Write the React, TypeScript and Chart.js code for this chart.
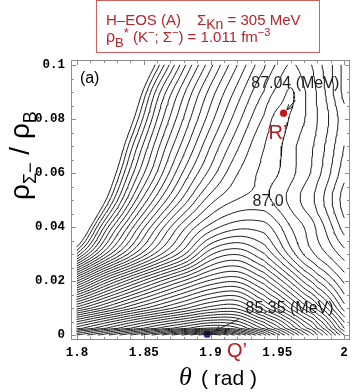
import React, { useEffect, useRef } from "react";
import { Chart, registerables } from "chart.js";

Chart.register(...registerables);

// ---- data: energy surface E(theta, rho) ----
// values are contour indices above the global minimum Q' (85.35 MeV), one index = 0.05 MeV
const thetaValues = [1.8, 1.82, 1.84, 1.86, 1.88, 1.9, 1.92, 1.94, 1.95, 1.96, 1.97, 1.98, 2.0];
const rhoValues = [0, 0.0025, 0.01, 0.02, 0.03, 0.04, 0.05, 0.06, 0.07, 0.08, 0.09, 0.1];

const levelRho0000 = [13.0, 10.5, 8.0, 5.5, 2.8, 0.3, 3.5, 8.5, 11.5, 14.3, 17.2, 20.0, 26.0];
const levelRho0025 = [17.5, 15.2, 13.0, 11.0, 9.3, 7.9, 8.8, 12.3, 14.5, 17.0, 19.5, 22.0, 28.0];
const levelRho0100 = [26.5, 23.8, 21.3, 19.2, 17.3, 15.6, 15.3, 18.5, 20.2, 22.2, 24.3, 26.4, 31.5];
const levelRho0200 = [38.0, 33.0, 29.4, 26.4, 23.9, 21.8, 21.2, 23.5, 25.3, 27.2, 29.2, 31.0, 34.2];
const levelRho0300 = [49.8, 43.4, 38.6, 34.6, 31.2, 27.2, 26.1, 27.9, 29.6, 31.4, 33.1, 34.3, 36.5];
const levelRho0400 = [56.3, 48.1, 42.5, 38.0, 34.3, 31.6, 30.3, 30.5, 31.6, 33.0, 34.0, 35.3, 38.5];
const levelRho0500 = [60.7, 52.6, 46.1, 41.4, 37.6, 34.4, 32.95, 32.7, 33.4, 34.3, 35.3, 36.4, 39.5];
const levelRho0600 = [62.3, 55.2, 48.6, 43.9, 39.8, 36.6, 34.05, 32.8, 32.95, 33.7, 34.6, 35.7, 38.6];
const levelRho0700 = [64.5, 57.5, 50.5, 45.4, 41.5, 38.0, 35.2, 33.05, 32.8, 33.6, 34.5, 35.4, 38.0];
const levelRho0800 = [66.5, 59.6, 52.8, 47.0, 42.9, 39.4, 36.4, 33.85, 32.7, 33.1, 33.95, 35.0, 37.6];
const levelRho0900 = [68.0, 61.4, 55.0, 48.6, 44.2, 40.6, 37.6, 34.95, 33.7, 32.9, 33.9, 35.2, 38.3];
const levelRho1000 = [72.0, 65.0, 58.2, 51.5, 46.3, 42.3, 39.0, 36.2, 34.8, 33.9, 34.5, 35.6, 38.3];

const contourLevels = [
  1, 2, 3, 4, 5, 6, 7, 8, 9, 10, 11, 12, 13, 14, 15, 16, 17, 18, 19, 20, 21, 22, 23, 24, 25, 26,
  27, 28, 29, 30, 31, 32, 33, 34, 35, 36, 37, 38, 39, 40, 41, 42, 43, 44, 45, 46, 47, 48, 49, 50,
  51, 52,
];

const pointQ = { theta: 1.8975, rho: 0.0003 };
const pointR = { theta: 1.9547, rho: 0.0822 };

const xTickValues = [1.8, 1.85, 1.9, 1.95, 2.0];
const xTickLabels = ["1.8", "1.85", "1.9", "1.95", "2"];
const yTickValues = [0, 0.02, 0.04, 0.06, 0.08, 0.1];
const yTickLabels = ["0", "0.02", "0.04", "0.06", "0.08", "0.1"];

// ---- rendering helpers ----
const SANS = '"Liberation Sans", Arial, sans-serif';
const MONO = '"Liberation Mono", "Courier New", monospace';

type P = { x: number; y: number };

function catmull(p0: number, p1: number, p2: number, p3: number, t: number) {
  const t2 = t * t;
  const t3 = t2 * t;
  return 0.5 * (2 * p1 + (-p0 + p2) * t + (2 * p0 - 5 * p1 + 4 * p2 - p3) * t2 + (-p0 + 3 * p1 - 3 * p2 + p3) * t3);
}

function buildField(rows: number[][], sub: number) {
  const nR = rows.length;
  const nC = rows[0].length;
  const colVal = (r: number, c: number) => {
    if (c < 0) return 2 * rows[r][0] - rows[r][1];
    if (c > nC - 1) return 2 * rows[r][nC - 1] - rows[r][nC - 2];
    return rows[r][c];
  };
  const sampleRow = (r: number, i: number, tu: number) =>
    catmull(colVal(r, i - 1), colVal(r, i), colVal(r, i + 1), colVal(r, i + 2), tu);
  const U = (nC - 1) * sub;
  const V = (nR - 1) * sub;
  const xs: number[] = [];
  const ys: number[] = [];
  for (let a = 0; a <= U; a++) {
    const u = a / sub;
    const i = Math.min(Math.floor(u), nC - 2);
    const tu = u - i;
    xs.push(thetaValues[i] + (thetaValues[i + 1] - thetaValues[i]) * tu);
  }
  for (let b = 0; b <= V; b++) {
    const v = b / sub;
    const j = Math.min(Math.floor(v), nR - 2);
    const tv = v - j;
    ys.push(rhoValues[j] + (rhoValues[j + 1] - rhoValues[j]) * tv);
  }
  const field: number[][] = [];
  for (let b = 0; b <= V; b++) {
    const v = b / sub;
    const j = Math.min(Math.floor(v), nR - 2);
    const tv = v - j;
    const line: number[] = [];
    for (let a = 0; a <= U; a++) {
      const u = a / sub;
      const i = Math.min(Math.floor(u), nC - 2);
      const tu = u - i;
      const rv = (r: number): number => {
        if (r < 0) return 2 * sampleRow(0, i, tu) - sampleRow(1, i, tu);
        if (r > nR - 1) return 2 * sampleRow(nR - 1, i, tu) - sampleRow(nR - 2, i, tu);
        return sampleRow(r, i, tu);
      };
      line.push(catmull(rv(j - 1), rv(j), rv(j + 1), rv(j + 2), tv));
    }
    field.push(line);
  }
  return { field, xs, ys };
}

function contourLines(F: number[][], xs: number[], ys: number[], lvl: number): P[] {
  const segs: [P, P][] = [];
  for (let r = 0; r < ys.length - 1; r++) {
    for (let c = 0; c < xs.length - 1; c++) {
      const a = F[r][c], b = F[r][c + 1], cc = F[r + 1][c + 1], d = F[r + 1][c];
      const idx = (a >= lvl ? 1 : 0) | (b >= lvl ? 2 : 0) | (cc >= lvl ? 4 : 0) | (d >= lvl ? 8 : 0);
      if (idx === 0 || idx === 15) continue;
      const B = (): P => ({ x: xs[c] + (xs[c + 1] - xs[c]) * (lvl - a) / (b - a), y: ys[r] });
      const R = (): P => ({ x: xs[c + 1], y: ys[r] + (ys[r + 1] - ys[r]) * (lvl - b) / (cc - b) });
      const T = (): P => ({ x: xs[c] + (xs[c + 1] - xs[c]) * (lvl - d) / (cc - d), y: ys[r + 1] });
      const L = (): P => ({ x: xs[c], y: ys[r] + (ys[r + 1] - ys[r]) * (lvl - a) / (d - a) });
      const m = (a + b + cc + d) / 4;
      switch (idx) {
        case 1: case 14: segs.push([L(), B()]); break;
        case 2: case 13: segs.push([B(), R()]); break;
        case 3: case 12: segs.push([L(), R()]); break;
        case 4: case 11: segs.push([R(), T()]); break;
        case 6: case 9: segs.push([B(), T()]); break;
        case 7: case 8: segs.push([L(), T()]); break;
        case 5:
          if (m >= lvl) { segs.push([B(), R()]); segs.push([L(), T()]); }
          else { segs.push([L(), B()]); segs.push([R(), T()]); }
          break;
        case 10:
          if (m >= lvl) { segs.push([L(), B()]); segs.push([R(), T()]); }
          else { segs.push([B(), R()]); segs.push([L(), T()]); }
          break;
      }
    }
  }
  // chain segments into polylines
  const key = (p: P) => p.x + "_" + p.y;
  const adj = new Map<string, number[]>();
  segs.forEach((s, i) => {
    for (const p of s) {
      const k = key(p);
      if (!adj.has(k)) adj.set(k, []);
      adj.get(k)!.push(i);
    }
  });
  const used = new Uint8Array(segs.length);
  const out: P[] = [];
  const extend = (line: P[], atEnd: boolean) => {
    for (;;) {
      const p = atEnd ? line[line.length - 1] : line[0];
      const kp = key(p);
      const cand = adj.get(kp) || [];
      let f = -1;
      for (const j of cand) if (!used[j]) { f = j; break; }
      if (f < 0) break;
      used[f] = 1;
      const s = segs[f];
      const q = key(s[0]) === kp ? s[1] : s[0];
      if (atEnd) line.push(q); else line.unshift(q);
    }
  };
  for (let i = 0; i < segs.length; i++) {
    if (used[i]) continue;
    used[i] = 1;
    const line: P[] = [segs[i][0], segs[i][1]];
    extend(line, true);
    extend(line, false);
    for (const p of line) out.push(p);
    out.push({ x: line[0].x, y: NaN });
  }
  return out;
}

function runs(ctx: CanvasRenderingContext2D, x: number, y: number, parts: { t: string; f: string; dy?: number }[]) {
  let cx = x;
  for (const p of parts) {
    ctx.font = p.f;
    ctx.fillText(p.t, cx, y + (p.dy || 0));
    cx += ctx.measureText(p.t).width;
  }
}

function arrow(ctx: CanvasRenderingContext2D, x1: number, y1: number, x2: number, y2: number) {
  ctx.beginPath();
  ctx.moveTo(x1, y1);
  ctx.lineTo(x2, y2);
  const ang = Math.atan2(y2 - y1, x2 - x1);
  const h = 6;
  ctx.moveTo(x2, y2);
  ctx.lineTo(x2 - h * Math.cos(ang - 0.4), y2 - h * Math.sin(ang - 0.4));
  ctx.moveTo(x2, y2);
  ctx.lineTo(x2 - h * Math.cos(ang + 0.4), y2 - h * Math.sin(ang + 0.4));
  ctx.stroke();
}

const decorPlugin = {
  id: "decor",
  afterDatasetsDraw(chart: any) {
    const { ctx, chartArea: a, scales } = chart;
    const xs = scales.x;
    const ys = scales.y;
    const px = (t: number) => xs.getPixelForValue(t);
    const py = (r: number) => ys.getPixelForValue(r);
    ctx.save();

    // frame with inward ticks
    ctx.strokeStyle = "#8c8c8c";
    ctx.lineWidth = 1;
    ctx.strokeRect(a.left + 0.5, a.top + 0.5, a.right - a.left - 1, a.bottom - a.top - 1);
    ctx.beginPath();
    for (let k = 0; k <= 20; k++) {
      const X = Math.round(px(1.8 + k * 0.01)) + 0.5;
      const len = k % 5 === 0 ? 5 : 3;
      ctx.moveTo(X, a.bottom); ctx.lineTo(X, a.bottom - len);
      ctx.moveTo(X, a.top); ctx.lineTo(X, a.top + len);
    }
    for (let k = 0; k <= 20; k++) {
      const Y = Math.round(py(k * 0.005)) + 0.5;
      const len = k % 4 === 0 ? 5 : 3;
      ctx.moveTo(a.left, Y); ctx.lineTo(a.left + len, Y);
      ctx.moveTo(a.right, Y); ctx.lineTo(a.right - len, Y);
    }
    ctx.stroke();

    // header box
    ctx.strokeStyle = "#d0625e";
    ctx.lineWidth = 1;
    ctx.strokeRect(96.5, 0.5, 223, 52);
    ctx.fillStyle = "#b3262b";
    ctx.textBaseline = "alphabetic";
    ctx.textAlign = "left";
    runs(ctx, 106, 25, [{ t: "H\u2013EOS (A)", f: `15px ${SANS}` }]);
    runs(ctx, 197, 25, [
      { t: "\u03A3", f: `15px ${SANS}` },
      { t: "Kn", f: `14px ${SANS}`, dy: 4 },
      { t: " = 305 MeV", f: `15px ${SANS}` },
    ]);
    runs(ctx, 106, 42, [
      { t: "\u03C1", f: `16px ${SANS}` },
      { t: "B", f: `13px ${SANS}`, dy: 5 },
      { t: "*", f: `13px ${SANS}`, dy: -5 },
      { t: " (K", f: `15px ${SANS}` },
      { t: "\u2212", f: `11px ${SANS}`, dy: -6 },
      { t: "; \u03A3", f: `15px ${SANS}` },
      { t: "\u2212", f: `11px ${SANS}`, dy: -6 },
      { t: ") = 1.011 fm", f: `15px ${SANS}` },
      { t: "\u22123", f: `11px ${SANS}`, dy: -6 },
    ]);

    // axis titles
    ctx.fillStyle = "#000";
    ctx.save();
    ctx.translate(29, 200);
    ctx.rotate(-Math.PI / 2);
    runs(ctx, 0, 0, [
      { t: "\u03C1", f: `28px ${SANS}` },
      { t: "\u03A3\u2212", f: `18px ${SANS}`, dy: 7 },
      { t: " / \u03C1", f: `28px ${SANS}` },
      { t: "B", f: `18px ${SANS}`, dy: 7 },
    ]);
    ctx.restore();
    runs(ctx, 179, 385, [
      { t: "\u03B8", f: `italic 26px "Liberation Serif", serif` },
    ]);
    runs(ctx, 201, 385, [{ t: "( rad )", f: `21px ${SANS}` }]);

    // annotations
    ctx.fillStyle = "#000";
    runs(ctx, px(1.8022), py(0.0935), [{ t: "(a)", f: `16px ${SANS}` }]);
    ctx.fillStyle = "#1e1e1e";
    runs(ctx, px(1.9305), py(0.0915), [{ t: "87.04 (MeV)", f: `16px ${SANS}` }]);
    runs(ctx, px(1.9315), py(0.0478), [{ t: "87.0", f: `16px ${SANS}` }]);
    runs(ctx, px(1.9262), py(0.0081), [{ t: "85.35 (MeV)", f: `16px ${SANS}` }]);
    ctx.strokeStyle = "#1e1e1e";
    ctx.lineWidth = 1;
    arrow(ctx, px(1.9636), py(0.087), px(1.9572), py(0.0834));
    arrow(ctx, px(1.921), py(0.0058), px(1.9035), py(0.0016));
    ctx.fillStyle = "#c0161c";
    runs(ctx, px(1.9435), py(0.0726), [{ t: "R\u2019", f: `20px ${SANS}` }]);
    runs(ctx, px(1.9123), py(-0.0082), [{ t: "Q\u2019", f: `20px ${SANS}` }]);
    ctx.restore();
  },
};

export default function App() {
  const ref = useRef<HTMLCanvasElement | null>(null);
  useEffect(() => {
    document.body.style.margin = "0";
    const canvas = ref.current;
    if (!canvas) return;
    const rows = [
      levelRho0000, levelRho0025, levelRho0100, levelRho0200, levelRho0300, levelRho0400,
      levelRho0500, levelRho0600, levelRho0700, levelRho0800, levelRho0900, levelRho1000,
    ];
    const { field, xs, ys } = buildField(rows, 8);
    const datasets: any[] = contourLevels.map((lvl) => ({
      label: "E" + lvl,
      data: contourLines(field, xs, ys, lvl),
      borderColor: "#111",
      borderWidth: 0.95,
      pointRadius: 0,
      fill: false,
      tension: 0,
      spanGaps: false,
      borderJoinStyle: "round",
      borderCapStyle: "round",
    }));
    datasets.push({
      label: "Q'",
      data: [{ x: pointQ.theta, y: pointQ.rho }],
      showLine: false,
      pointRadius: 3.6,
      pointBackgroundColor: "#1d2aa6",
      pointBorderWidth: 0,
    });
    datasets.push({
      label: "R'",
      data: [{ x: pointR.theta, y: pointR.rho }],
      showLine: false,
      pointRadius: 3.6,
      pointBackgroundColor: "#c0161c",
      pointBorderWidth: 0,
    });
    const chart = new Chart(canvas, {
      type: "line",
      data: { datasets },
      options: {
        animation: false,
        responsive: false,
        devicePixelRatio: 1,
        events: [],
        layout: { padding: { left: 0, top: 60, right: 2, bottom: 32 } },
        plugins: { legend: { display: false }, tooltip: { enabled: false } },
        scales: {
          x: {
            type: "linear",
            min: 1.79554,
            max: 2.00446,
            grid: { display: false, drawTicks: false },
            border: { display: false },
            afterBuildTicks: (s: any) => { s.ticks = xTickValues.map((v) => ({ value: v })); },
            afterFit: (s: any) => { s.height = 20; },
            ticks: {
              autoSkip: false,
              maxRotation: 0,
              padding: 5,
              color: "#000",
              font: { family: MONO, size: 12.5, weight: "bold" },
              callback: (v: any) => {
                const i = xTickValues.findIndex((t) => Math.abs(t - v) < 1e-6);
                return i >= 0 ? xTickLabels[i] : "";
              },
            },
          },
          y: {
            type: "linear",
            min: -0.00185,
            max: 0.1019,
            grid: { display: false, drawTicks: false },
            border: { display: false },
            afterBuildTicks: (s: any) => { s.ticks = yTickValues.map((v) => ({ value: v })); },
            afterFit: (s: any) => { s.width = 71; },
            ticks: {
              autoSkip: false,
              padding: 6,
              color: "#000",
              font: { family: MONO, size: 12.5, weight: "bold" },
              callback: (v: any) => {
                const i = yTickValues.findIndex((t) => Math.abs(t - v) < 1e-9);
                return i >= 0 ? yTickLabels[i] : "";
              },
            },
          },
        },
      },
      plugins: [decorPlugin],
    } as any);
    return () => chart.destroy();
  }, []);
  return (
    <div style={{ width: 354, height: 392, background: "#fff" }}>
      <canvas ref={ref} width={354} height={392} style={{ display: "block" }} />
    </div>
  );
}
